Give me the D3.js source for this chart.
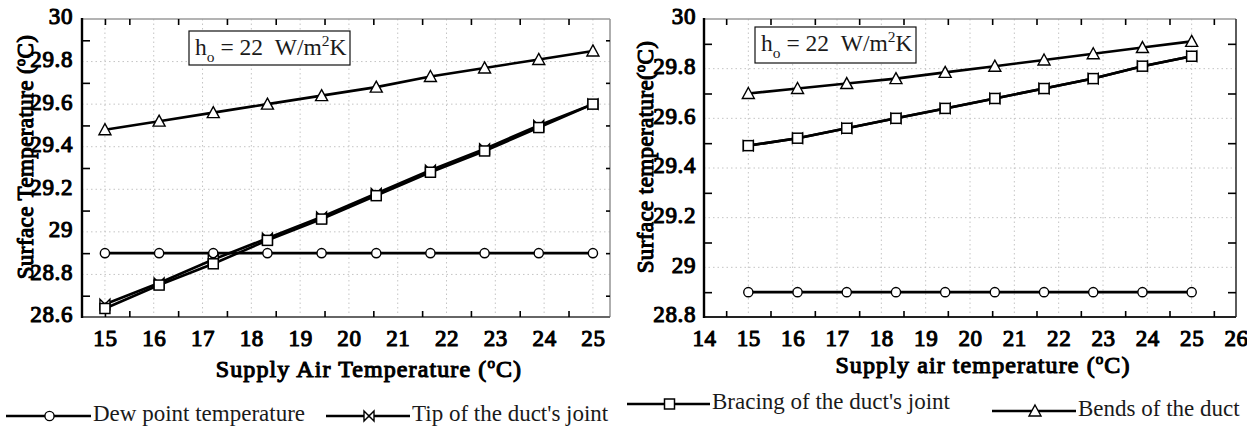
<!DOCTYPE html>
<html><head><meta charset="utf-8">
<script src="https://cdn.jsdelivr.net/npm/d3@7"></script>
<style>
html,body{margin:0;padding:0;background:#fff;}
svg{display:block;font-family:"Liberation Serif","Times New Roman",serif;}
.heavy{font-family:"Liberation Serif","Times New Roman",serif;font-weight:normal;fill:#000;stroke:#000;stroke-width:1.1px;stroke-linejoin:round;}
</style></head><body>
<svg id="chart" width="1247" height="428"></svg>
<script>
// Supply air temperature at each computed point (°C)
const supplyTemp = [15, 16.11, 17.22, 18.33, 19.44, 20.56, 21.67, 22.78, 23.89, 25];

// Left panel: surface temperatures (°C)
const dewPointLeft = [28.9, 28.9, 28.9, 28.9, 28.9, 28.9, 28.9, 28.9, 28.9, 28.9];
const tipLeft      = [28.66, 28.76, 28.87, 28.97, 29.07, 29.18, 29.29, 29.39, 29.50, 29.60];
const bracingLeft  = [28.64, 28.75, 28.85, 28.96, 29.06, 29.17, 29.28, 29.38, 29.49, 29.60];
const bendsLeft    = [29.48, 29.52, 29.56, 29.60, 29.64, 29.68, 29.73, 29.77, 29.81, 29.85];

// Right panel: surface temperatures (°C)
const dewPointRight = [28.9, 28.9, 28.9, 28.9, 28.9, 28.9, 28.9, 28.9, 28.9, 28.9];
const tipRight      = [29.49, 29.52, 29.56, 29.60, 29.64, 29.68, 29.72, 29.76, 29.81, 29.85];
const bracingRight  = [29.49, 29.52, 29.56, 29.60, 29.64, 29.68, 29.72, 29.76, 29.81, 29.85];
const bendsRight    = [29.70, 29.72, 29.74, 29.76, 29.785, 29.81, 29.835, 29.86, 29.885, 29.91];

// Tick labels
const xTicksLeft  = [15, 16, 17, 18, 19, 20, 21, 22, 23, 24, 25];
const yTicksLeft  = [28.6, 28.8, 29, 29.2, 29.4, 29.6, 29.8, 30];
const xTicksRight = [14, 15, 16, 17, 18, 19, 20, 21, 22, 23, 24, 25, 26];
const yTicksRight = [28.8, 29, 29.2, 29.4, 29.6, 29.8, 30];

const seriesNames = ["Dew point temperature", "Tip of the duct's joint",
                     "Bracing of the duct's joint", "Bends of the duct"];
const markerKinds = ["circle", "bowtie", "square", "triangle"];

const svg = d3.select("#chart");
const defs = svg.append("defs");

const fmt = v => Number.isInteger(v) ? String(v) : v.toFixed(1);
const mids = arr => arr.slice(1).map((v, i) => (v + arr[i]) / 2);

function marker(g, kind, x, y) {
  const s = 5;
  if (kind === "circle") {
    g.append("circle").attr("cx", x).attr("cy", y).attr("r", 4.6)
      .attr("fill", "#fff").attr("stroke", "#000").attr("stroke-width", 1.4);
  } else if (kind === "square") {
    g.append("rect").attr("x", x - s).attr("y", y - s).attr("width", 2 * s).attr("height", 2 * s)
      .attr("fill", "#fff").attr("stroke", "#000").attr("stroke-width", 1.5);
  } else if (kind === "triangle") {
    g.append("path").attr("d", `M${x},${y - 6}L${x + 6},${y + 5}L${x - 6},${y + 5}Z`)
      .attr("fill", "#fff").attr("stroke", "#000").attr("stroke-width", 1.4);
  } else if (kind === "bowtie") {
    g.append("path").attr("d", `M${x - s},${y - s}L${x + s},${y + s}L${x + s},${y - s}L${x - s},${y + s}Z`)
      .attr("fill", "#fff").attr("stroke", "#000").attr("stroke-width", 1.4).attr("stroke-linejoin", "miter");
  }
}

function drawPanel(p) {
  const { x, y, series, xTicks, yTicks, xTickMarks, clip } = p;
  const [x0, x1] = x.range();
  const [y1, y0] = y.range();

  const clipId = "clip-" + p.id;
  defs.append("clipPath").attr("id", clipId)
    .append("rect").attr("x", clip[0]).attr("y", 0).attr("width", clip[1] - clip[0]).attr("height", 428);
  const g = svg.append("g").attr("clip-path", `url(#${clipId})`);

  // dotted grid
  const grid = g.append("g").attr("stroke", "#c4c4c4").attr("stroke-width", 1).attr("stroke-dasharray", "1.5,3");
  xTicks.filter(v => x(v) > x0 + 2 && x(v) < x1 - 2).forEach(v =>
    grid.append("line").attr("x1", x(v)).attr("x2", x(v)).attr("y1", y0).attr("y2", y1));
  yTicks.filter(v => y(v) > y0 + 2 && y(v) < y1 - 2).forEach(v =>
    grid.append("line").attr("x1", x0).attr("x2", x1).attr("y1", y(v)).attr("y2", y(v)));

  // frame
  g.append("line").attr("x1", x0).attr("x2", x1).attr("y1", y0).attr("y2", y0).attr("stroke", "#9a9a9a").attr("stroke-width", 1.5);
  g.append("line").attr("x1", x1).attr("x2", x1).attr("y1", y0).attr("y2", y1).attr("stroke", p.rightColor).attr("stroke-width", 1.6);
  g.append("line").attr("x1", x0).attr("x2", x1).attr("y1", y1).attr("y2", y1).attr("stroke", p.bottomColor).attr("stroke-width", 2);
  g.append("line").attr("x1", x0).attr("x2", x0).attr("y1", y0 - 1).attr("y2", y1 + 1).attr("stroke", "#000").attr("stroke-width", 2.4);

  // tick marks (inside the frame, halfway between labels)
  const yMarks = mids(yTicks);
  const styleMarks = sel => { sel.select(".domain").remove(); sel.selectAll("line").attr("stroke", "#000").attr("stroke-width", 1.6); };
  g.append("g").attr("transform", `translate(0,${y0})`)
    .call(d3.axisTop(x).tickValues(xTickMarks).tickSize(-6).tickFormat("")).call(styleMarks);
  g.append("g").attr("transform", `translate(0,${y1})`)
    .call(d3.axisBottom(x).tickValues(xTickMarks).tickSize(-6).tickFormat("")).call(styleMarks);
  g.append("g").attr("transform", `translate(${x0},0)`)
    .call(d3.axisLeft(y).tickValues(yMarks).tickSize(-8).tickFormat("")).call(styleMarks);
  g.append("g").attr("transform", `translate(${x1},0)`)
    .call(d3.axisRight(y).tickValues(yMarks).tickSize(-p.rightTick).tickFormat("")).call(styleMarks);

  // tick labels
  const styleLabels = sel => {
    sel.select(".domain").remove(); sel.selectAll("line").remove();
    sel.attr("font-family", null).attr("font-size", null);
    sel.selectAll("text").attr("class", "heavy").attr("fill", null)
      .attr("font-size", 23).attr("letter-spacing", 0.6);
  };
  g.append("g").attr("transform", `translate(0,${y1})`)
    .call(d3.axisBottom(x).tickValues(xTicks).tickSize(0).tickPadding(13).tickFormat(fmt)).call(styleLabels);
  g.append("g").attr("transform", `translate(${x0},-2.5)`)
    .call(d3.axisLeft(y).tickValues(yTicks).tickSize(0).tickPadding(p.yPad).tickFormat(fmt)).call(styleLabels);

  // series lines and markers
  const line = d3.line().x(d => x(d[0])).y(d => y(d[1]));
  series.forEach(s => {
    const pts = supplyTemp.map((t, i) => [t, s.values[i]]);
    g.append("path").datum(pts).attr("d", line).attr("fill", "none")
      .attr("stroke", "#000").attr("stroke-width", 2.6);
  });
  series.forEach(s => {
    const mg = g.append("g");
    supplyTemp.forEach((t, i) => marker(mg, s.kind, x(t), y(s.values[i])));
  });

  // annotation box
  const b = p.note;
  g.append("rect").attr("x", b.x).attr("y", b.y).attr("width", b.w).attr("height", b.h)
    .attr("fill", "#fff").attr("stroke", "#111").attr("stroke-width", 1.2);
  const nt = g.append("text").attr("x", b.x + 6).attr("y", b.y + 24)
    .attr("font-size", 23.5).attr("fill", "#1a1a1a");
  nt.append("tspan").text("h");
  nt.append("tspan").attr("font-size", 15.5).attr("dy", 7).text("o");
  nt.append("tspan").attr("dy", -7).text("\u00a0=\u00a022\u00a0\u00a0W/m");
  nt.append("tspan").attr("font-size", 15.5).attr("dy", -9).text("2");
  nt.append("tspan").attr("dy", 9).text("K");

  // axis titles
  const xt = g.append("text").attr("class", "heavy").attr("x", p.xTitle.x).attr("y", p.xTitle.y)
    .attr("text-anchor", "middle").attr("font-size", 24).attr("letter-spacing", 1.1);
  xt.append("tspan").text(p.xTitle.text + " (");
  xt.append("tspan").attr("font-size", 15).attr("dy", -9).text("o");
  xt.append("tspan").attr("dy", 9).text("C)");

  const yt = g.append("text").attr("class", "heavy")
    .attr("transform", `translate(${p.yTitle.x},${p.yTitle.y}) rotate(-90)`)
    .attr("text-anchor", "middle").attr("font-size", 23).attr("letter-spacing", 0.4);
  yt.append("tspan").text(p.yTitle.text + "(");
  yt.append("tspan").attr("font-size", 14).attr("dy", -8).text("o");
  yt.append("tspan").attr("dy", 8).text("C)");

  // legend
  p.legend.forEach(l => {
    const s = series[l.idx];
    g.append("line").attr("x1", l.x1).attr("x2", l.x2).attr("y1", l.y).attr("y2", l.y)
      .attr("stroke", "#000").attr("stroke-width", 2.6);
    marker(g, s.kind, (l.x1 + l.x2) / 2 + 1, l.y);
    g.append("text").attr("x", l.x2 + 2).attr("y", l.y + 5).attr("font-size", 23)
      .attr("fill", "#1a1a1a").text(s.name);
  });
}

const mkSeries = vals => vals.map((v, i) => ({ name: seriesNames[i], kind: markerKinds[i], values: v }));

// Left panel
const xL = d3.scaleLinear().domain([14.53, 25.35]).range([82, 610]);
const yL = d3.scaleLinear().domain([28.6, 30]).range([317, 19]);
drawPanel({
  id: "left", x: xL, y: yL,
  series: mkSeries([dewPointLeft, tipLeft, bracingLeft, bendsLeft]),
  xTicks: xTicksLeft, yTicks: yTicksLeft,
  xTickMarks: [xTicksLeft[0]].concat(mids(xTicksLeft)),
  clip: [0, 612], rightColor: "#9a9a9a", bottomColor: "#666", rightTick: 4, yPad: 9,
  note: { x: 189, y: 31, w: 161, h: 34 },
  xTitle: { x: 369, y: 377, text: "Supply Air Temperature" },
  yTitle: { x: 33, y: 157, text: "Surface Temperature " },
  legend: [{ idx: 0, x1: 6, x2: 91, y: 416 }, { idx: 1, x1: 326, x2: 410, y: 416 }]
});

// Right panel
const xR = d3.scaleLinear().domain([14, 26]).range([704, 1236]);
const yR = d3.scaleLinear().domain([28.8, 30]).range([317, 19]);
drawPanel({
  id: "right", x: xR, y: yR,
  series: mkSeries([dewPointRight, tipRight, bracingRight, bendsRight]),
  xTicks: xTicksRight, yTicks: yTicksRight,
  xTickMarks: mids(xTicksRight),
  clip: [618, 1247], rightColor: "#333", bottomColor: "#222", rightTick: 8, yPad: 8,
  note: { x: 755, y: 27, w: 161, h: 36 },
  xTitle: { x: 983, y: 373, text: "Supply air temperature" },
  yTitle: { x: 653, y: 157, text: "Surface temperature" },
  legend: [{ idx: 2, x1: 627, x2: 710, y: 404 }, { idx: 3, x1: 992, x2: 1076, y: 411 }]
});
</script>
</body></html>
